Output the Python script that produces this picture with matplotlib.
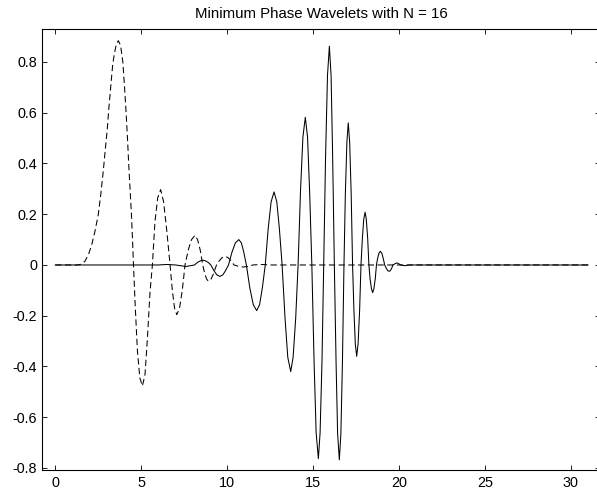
import numpy as np
import matplotlib
matplotlib.use("Agg")
import matplotlib.pyplot as plt

plt.rcParams['font.family'] = ['Liberation Sans', 'DejaVu Sans']
plt.rcParams['axes.unicode_minus'] = False
plt.rcParams['lines.scale_dashes'] = False

# minimum phase wavelet (dashed)
t_min = [0.0, 1.3, 1.5, 1.73, 1.95, 2.12, 2.30, 2.50, 2.65, 2.79, 2.91, 3.03, 3.12,
         3.22, 3.34, 3.43, 3.55, 3.67, 3.80, 3.93, 4.03, 4.12, 4.20, 4.27, 4.35,
         4.43, 4.50, 4.55, 4.65, 4.78, 4.92, 5.07, 5.22, 5.36, 5.51, 5.65,
         5.80, 5.96, 6.13, 6.30, 6.48, 6.68,
         6.81, 6.94, 7.07, 7.23, 7.39, 7.55,
         7.74, 7.93, 8.13, 8.28, 8.43, 8.58,
         8.69, 8.80, 8.91, 9.07, 9.22, 9.38,
         9.55, 9.71, 9.88, 10.05, 10.22, 10.40,
         10.70, 10.95, 11.20, 11.50, 12.0, 12.5, 31.0]
y_min = [0.0, 0.0, 0.003, 0.015, 0.045, 0.080, 0.130, 0.198, 0.280, 0.369, 0.455, 0.540, 0.620,
         0.698, 0.790, 0.829, 0.870, 0.884, 0.865, 0.800, 0.700, 0.600, 0.500, 0.400, 0.300,
         0.200, 0.090, 0.0, -0.160, -0.340, -0.445, -0.477, -0.432, -0.290, -0.110, 0.0,
         0.170, 0.265, 0.297, 0.250, 0.140, 0.0,
         -0.100, -0.170, -0.196, -0.170, -0.100, 0.0,
         0.060, 0.100, 0.117, 0.100, 0.060, 0.0,
         -0.032, -0.055, -0.064, -0.055, -0.032, 0.0,
         0.017, 0.029, 0.034, 0.029, 0.017, 0.0,
         -0.006, -0.008, -0.006, 0.0, 0.002, 0.0, 0.0]

# companion wavelet (solid)
t_sol = [0.0, 6.0, 6.5, 7.0, 7.3, 7.6, 7.85, 8.1,
         8.27, 8.43, 8.60, 8.75, 8.90, 9.05,
         9.23, 9.40, 9.58, 9.75, 9.91, 10.08,
         10.28, 10.48, 10.68, 10.83, 10.97, 11.12,
         11.32, 11.52, 11.72, 11.89, 12.05, 12.22,
         12.39, 12.56, 12.73, 12.89, 13.04, 13.20,
         13.37, 13.53, 13.70, 13.84, 13.99, 14.13,
         14.27, 14.41, 14.55, 14.68, 14.80, 14.93,
         15.06, 15.18, 15.31, 15.41, 15.52, 15.62,
         15.73, 15.84, 15.95, 16.05, 16.14, 16.24,
         16.34, 16.43, 16.53, 16.62, 16.71, 16.80,
         16.88, 16.97, 17.05, 17.13, 17.22, 17.30,
         17.38, 17.46, 17.54, 17.62, 17.71, 17.79,
         17.87, 17.95, 18.03, 18.10, 18.18, 18.25,
         18.32, 18.40, 18.47, 18.54, 18.62, 18.69,
         18.76, 18.84, 18.91, 19.00, 19.08, 19.17,
         19.26, 19.34, 19.43, 19.50, 19.58, 19.65,
         19.80, 19.88, 19.98, 20.10, 20.35, 20.60, 31.0]
y_sol = [0.0, 0.0, 0.002, 0.0, -0.003, -0.006, -0.003, 0.0,
         0.010, 0.016, 0.019, 0.016, 0.010, 0.0,
         -0.022, -0.039, -0.045, -0.039, -0.022, 0.0,
         0.050, 0.087, 0.100, 0.087, 0.050, 0.0,
         -0.090, -0.156, -0.180, -0.156, -0.090, 0.0,
         0.144, 0.249, 0.288, 0.249, 0.144, 0.0,
         -0.210, -0.364, -0.420, -0.364, -0.210, 0.0,
         0.291, 0.504, 0.582, 0.504, 0.291, 0.0,
         -0.382, -0.661, -0.763, -0.661, -0.382, 0.0,
         0.431, 0.746, 0.862, 0.746, 0.431, 0.0,
         -0.384, -0.665, -0.768, -0.665, -0.384, 0.0,
         0.280, 0.485, 0.560, 0.485, 0.280, 0.0,
         -0.180, -0.312, -0.360, -0.312, -0.180, 0.0,
         0.104, 0.180, 0.208, 0.180, 0.104, 0.0,
         -0.055, -0.094, -0.109, -0.094, -0.055, 0.0,
         0.027, 0.047, 0.054, 0.047, 0.027, 0.0,
         -0.0125, -0.022, -0.025, -0.022, -0.0125, 0.0,
         0.006, 0.008, 0.005, 0.0, -0.003, 0.0, 0.0]

x_ticks = [0, 5, 10, 15, 20, 25, 30]
y_ticks = [-0.8, -0.6, -0.4, -0.2, 0, 0.2, 0.4, 0.6, 0.8]
y_labels = ["-0.8", "-0.6", "-0.4", "-0.2", "0", "0.2", "0.4", "0.6", "0.8"]

fig = plt.figure(figsize=(5.97, 4.94), dpi=100)
ax = fig.add_axes([42 / 597, 24 / 494, 558 / 597, 441 / 494])

ax.plot(t_min, y_min, color="black", lw=0.75, dashes=(4.5, 2.5))
ax.plot(t_sol, y_sol, color="black", lw=0.75)

ax.set_xlim(-0.774, 31.70)
ax.set_ylim(-0.808, 0.930)
ax.set_xticks(x_ticks)
ax.set_yticks(y_ticks)
ax.set_yticklabels(y_labels)
ax.tick_params(direction="in", length=3.6, width=0.6, labelsize=10.4,
               top=True, right=True)
ax.tick_params(axis="y", pad=3.5)
ax.tick_params(axis="x", pad=4)
for s in ax.spines.values():
    s.set_linewidth(0.8)

ax.set_title("Minimum Phase Wavelets with N = 16", fontsize=10.8, pad=8)

plt.savefig("out.png", dpi=100)
